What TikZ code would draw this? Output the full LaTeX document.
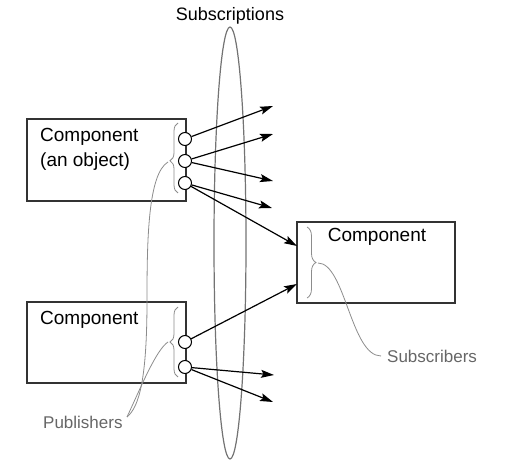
\documentclass[tikz,border=0pt]{standalone}
\usepackage{fontspec}
\setmainfont{Liberation Sans}
\usetikzlibrary{arrows.meta,decorations.pathreplacing}
\begin{document}
\begin{tikzpicture}
    [x=1pt,y=-1pt,
     box/.style={draw=black!80,line width=1.2pt,inner sep=0pt},
     port/.style={circle,draw,fill=white,line width=1pt,minimum size=13pt,inner sep=0pt},
     word/.style={inner sep=0pt,align=left,font=\fontsize{19}{24.5}\selectfont},
     note/.style={inner sep=0pt,text=black!60,font=\fontsize{17}{20}\selectfont},
     send/.style={-{Stealth[length=13pt,width=8pt,inset=2.5pt]},line width=1.2pt},
     curly/.style={draw=black!45,line width=0.8pt,decorate},
     lead/.style={draw=black!45,line width=0.8pt}]
    \useasboundingbox (0,0) rectangle (515,476);
    % subscription ring
    \node (subs) at (230,16) [inner sep=0pt,font=\fontsize{18}{20}\selectfont] {Subscriptions};
    \draw [draw=black!55,line width=1.2pt] (230,243) ellipse [x radius=16,y radius=216];
    % components
    \node (comp1) at (106.5,160) [box,minimum width=159pt,minimum height=82pt] {};
    \node (comp2) at (106.5,342.5) [box,minimum width=159pt,minimum height=81pt] {};
    \node (comp3) at (376,262.5) [box,minimum width=158pt,minimum height=81pt] {};
    \node (name1) at (40,128.5) [word,anchor=north west] {Component\\(an object)};
    \node (name2) at (40,311) [word,anchor=north west] {Component};
    \node (name3) at (377,237) [word] {Component};
    % publisher ports
    \node (p1) at (185,139) [port] {};
    \node (p2) at (185,161) [port] {};
    \node (p3) at (185,183) [port] {};
    \node (p4) at (185,342) [port] {};
    \node (p5) at (185,367) [port] {};
    % arrow ends
    \coordinate (s1) at (273,106);
    \coordinate (s2) at (273,134);
    \coordinate (s3) at (273,181);
    \coordinate (s4) at (272,208);
    \coordinate (s5) at (297,246);
    \coordinate (s6) at (297,284);
    \coordinate (s7) at (274,375);
    \coordinate (s8) at (273,402);
    \draw [send] (p1) to (s1);
    \draw [send] (p2) to (s2);
    \draw [send] (p2) to (s3);
    \draw [send] (p3) to (s4);
    \draw [send] (p3) to (s5);
    \draw [send] (p4) to (s6);
    \draw [send] (p5) to (s7);
    \draw [send] (p5) to (s8);
    % braces
    \draw [curly,decoration={brace,amplitude=8pt,aspect=0.46}] (178,193) -- (178,123);
    \draw [curly,decoration={brace,amplitude=8pt}] (178,377) -- (178,307);
    \draw [curly,decoration={brace,amplitude=9pt}] (307,227) -- (307,298);
    \coordinate (tip1) at (168,162);
    \coordinate (tip2) at (168,342);
    \coordinate (tip3) at (318,263);
    % labels
    \node (pubs) at (43,422) [note,anchor=west] {Publishers};
    \node (subsc) at (387,356) [note,anchor=west] {Subscribers};
    \coordinate (pubend) at (127,417);
    \coordinate (subend) at (381,356);
    \draw [lead] (tip1) .. controls +(-20,12) and +(0,-60) .. (147,300)
                        .. controls +(0,80) and +(12,-10) .. (pubend);
    \draw [lead] (tip2) .. controls +(-12,8) and +(14,-30) .. (pubend);
    \draw [lead] (tip3) .. controls +(27,0) and +(-30,0) .. (subend);
\end{tikzpicture}
\end{document}
